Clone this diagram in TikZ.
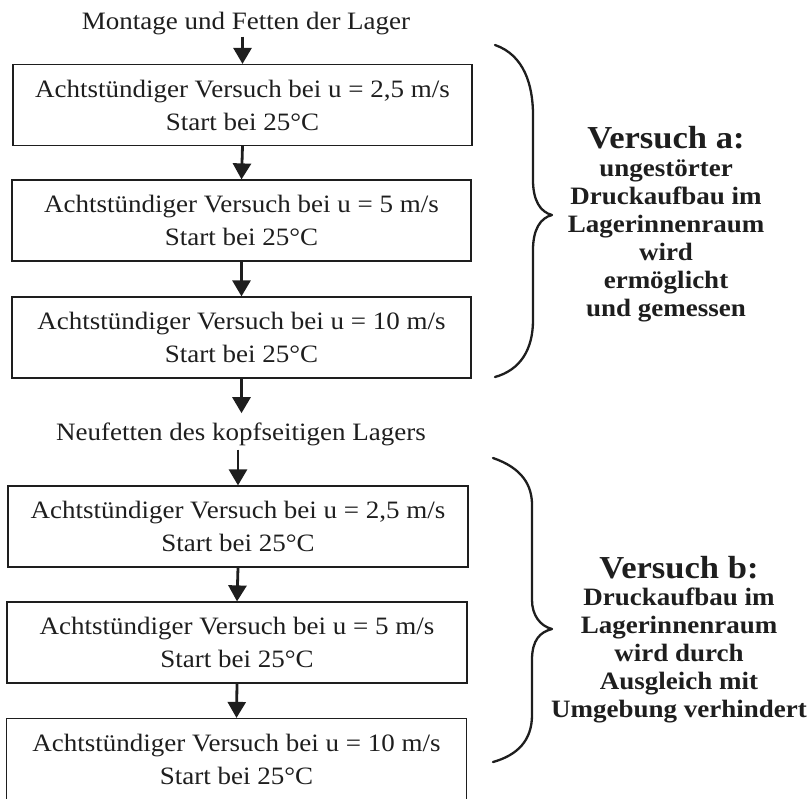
\documentclass[tikz,border=0pt]{standalone}
\usepackage{fontspec}
\setmainfont{Liberation Serif}[FakeStretch=1.08]
\usetikzlibrary{arrows.meta}
\definecolor{ink}{HTML}{1E1E1E}
\begin{document}
\begin{tikzpicture}[x=1pt,y=-1pt,
  stepbox/.style={draw=ink, line width=1.2pt, minimum width=459pt, minimum height=81pt,
    inner sep=0pt, align=center, text=ink, font=\fontsize{25}{33}\selectfont},
  caption/.style={inner sep=0pt, text=ink, font=\fontsize{25}{33}\selectfont},
  flow/.style={draw=ink, line width=2.8pt, -{Triangle[width=18pt,length=16pt]}},
  brace/.style={draw=ink, line width=2.3pt, line cap=round, line join=round},
  headline/.style={inner sep=0pt, text=ink, font=\bfseries\fontsize{32}{36}\selectfont},
  note/.style={inner sep=0pt, text=ink, align=center, font=\bfseries\fontsize{25}{28}\selectfont}]

\useasboundingbox (0,0) rectangle (811,798);

% process chain
\node[caption, anchor=base] (mont) at (246,29) {Montage und Fetten der Lager};
\node[stepbox] (v1) at (242.5,105)   {Achtstündiger Versuch bei u = 2,5 m/s\\Start bei 25°C};
\node[stepbox] (v2) at (241.5,220.5) {Achtstündiger Versuch bei u = 5 m/s\\Start bei 25°C};
\node[stepbox] (v3) at (241.5,337.5) {Achtstündiger Versuch bei u = 10 m/s\\Start bei 25°C};
\node[caption, anchor=base] (neu) at (241,440) {Neufetten des kopfseitigen Lagers};
\node[stepbox, minimum width=460pt] (v4) at (238,526.5)   {Achtstündiger Versuch bei u = 2,5 m/s\\Start bei 25°C};
\node[stepbox, minimum width=460pt] (v5) at (237,642.5)   {Achtstündiger Versuch bei u = 5 m/s\\Start bei 25°C};
\node[stepbox, minimum width=460pt] (v6) at (236.5,759)   {Achtstündiger Versuch bei u = 10 m/s\\Start bei 25°C};

% arrows
\draw[flow, shorten <=2pt] (mont.south -| v1.north) -- (v1.north);
\draw[flow] (v1.south) -- (v2.north);
\draw[flow] (v2.south) -- (v3.north);
\draw[flow, shorten >=9pt] (v3.south) -- (neu.north -| v3.south);
\draw[flow, shorten <=4pt] (neu.south -| v4.north) -- (v4.north);
\draw[flow] (v4.south) -- (v5.north);
\draw[flow] (v5.south) -- (v6.north);

% braces
\draw[brace] (495,45) .. controls (524,55) and (533,85) .. (533,115) -- (533,180)
  .. controls (533,200) and (540,212) .. (552,215)
  .. controls (540,218) and (533,230) .. (533,250) -- (533,320)
  .. controls (533,350) and (520,370) .. (495,377);
\draw[brace] (493,458) .. controls (522,468) and (532,485) .. (532,505) -- (532,600)
  .. controls (532,615) and (540,626) .. (552,629)
  .. controls (540,632) and (532,640) .. (532,660) -- (532,715)
  .. controls (532,740) and (518,755) .. (493,762);

% descriptions
\node[headline, anchor=base] (ta) at (666,148) {Versuch a:};
\node[note] (na) at (666,241) {ungestörter\\Druckaufbau im\\Lagerinnenraum\\wird\\ermöglicht\\und gemessen};
\node[headline, anchor=base] (tb) at (679,578) {Versuch b:};
\node[note] (nb) at (679,655) {Druckaufbau im\\Lagerinnenraum\\wird durch\\Ausgleich mit\\Umgebung verhindert};
\end{tikzpicture}
\end{document}
